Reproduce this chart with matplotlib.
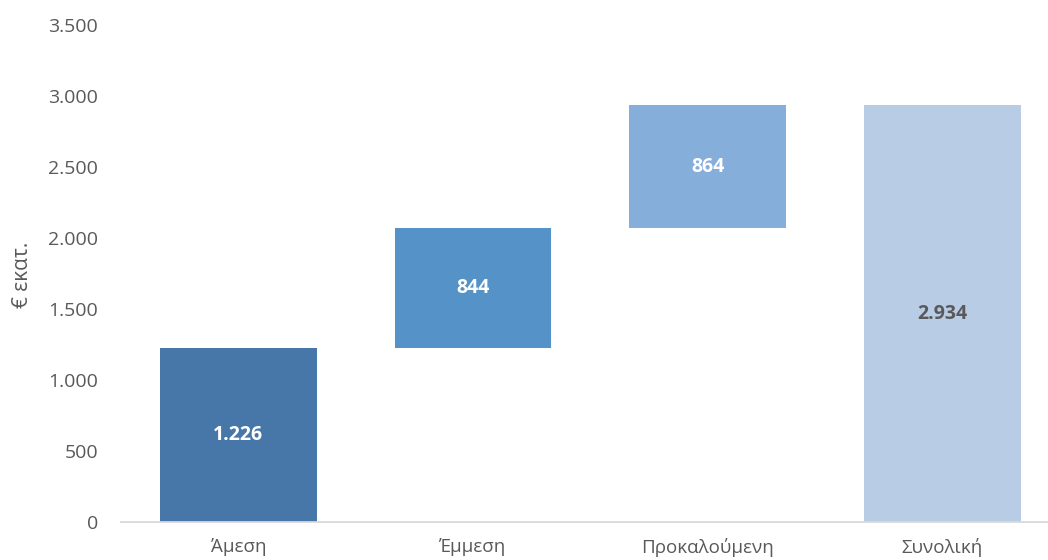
import matplotlib
matplotlib.use("Agg")
import matplotlib.pyplot as plt

categories = ["Άμεση", "Έμμεση", "Προκαλούμενη", "Συνολική"]
values = [1226, 844, 864, 2934]
is_total = [False, False, False, True]
colors = ["#4677A8", "#5592C8", "#86AEDB", "#B8CCE6"]
label_colors = ["white", "white", "white", "#595959"]
label_texts = ["1.226", "844", "864", "2.934"]
yticks = [0, 500, 1000, 1500, 2000, 2500, 3000, 3500]
ytick_labels = ["0", "500", "1.000", "1.500", "2.000", "2.500", "3.000", "3.500"]

plt.rcParams['font.family'] = ['Open Sans', 'DejaVu Sans']

fig = plt.figure(figsize=(10.48, 5.6), dpi=100)
ax = fig.add_axes([121/1048, 38/560, 927/1048, 497/560])

bottoms = []
run = 0
for v, t in zip(values, is_total):
    if t:
        bottoms.append(0)
    else:
        bottoms.append(run)
        run += v

x = list(range(len(categories)))
ax.bar(x, values, bottom=bottoms, width=0.667, color=colors, zorder=2)
for xi, v, b, lt, lc in zip(x, values, bottoms, label_texts, label_colors):
    ax.text(xi, b + v / 2, lt, ha="center", va="center", color=lc,
            fontsize=14, fontweight="bold", zorder=3)

ax.set_xlim(-0.5, 3.45)
ax.set_ylim(0, 3500)
ax.set_yticks(yticks)
ax.set_yticklabels(ytick_labels)
ax.set_xticks(x)
ax.set_xticklabels(categories)
ax.tick_params(axis="both", length=0, labelsize=14, colors="#595959")
ax.tick_params(axis="x", labelsize=13.5)
ax.tick_params(axis="y", pad=16.5)
ax.tick_params(axis="x", pad=11.5)
for s in ["top", "right", "left"]:
    ax.spines[s].set_visible(False)
ax.spines["bottom"].set_color("#D9D9D9")
ax.spines["bottom"].set_linewidth(1.3)
ax.set_ylabel("€ εκατ.", fontsize=15, color="#595959")
ax.yaxis.set_label_coords(-0.095, 0.497)

fig.savefig("out.png", dpi=100)
